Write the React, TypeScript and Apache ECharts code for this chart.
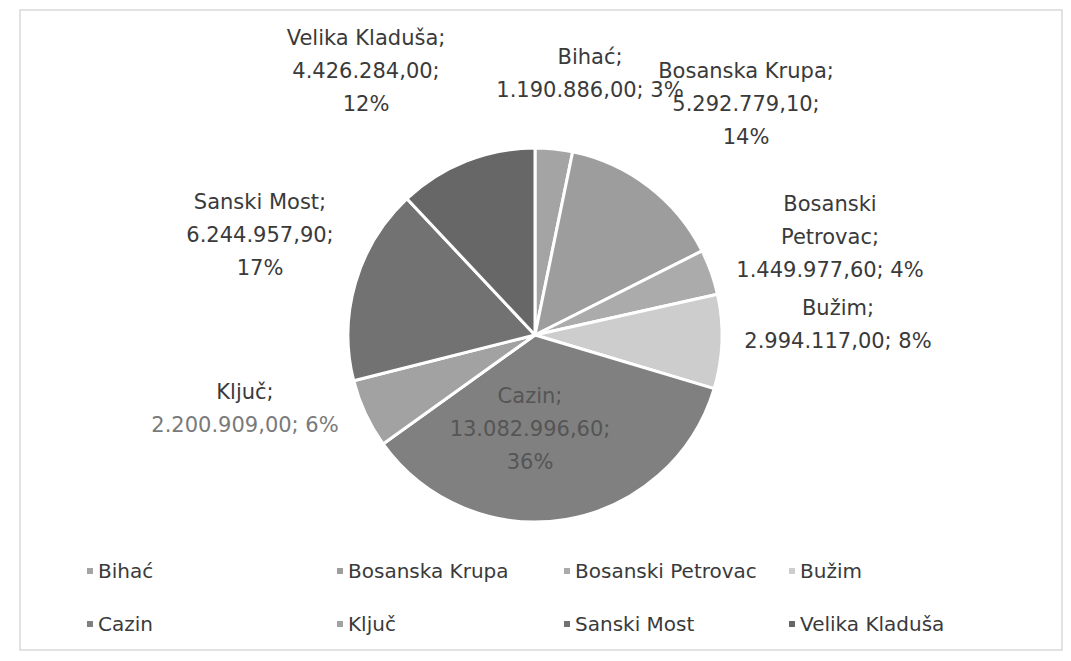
import React, { useEffect, useRef } from "react";
import * as echarts from "echarts";

const categories = [
  "Bihać",
  "Bosanska Krupa",
  "Bosanski Petrovac",
  "Bužim",
  "Cazin",
  "Ključ",
  "Sanski Most",
  "Velika Kladuša",
];
const values = [1190886.0, 5292779.1, 1449977.6, 2994117.0, 13082996.6, 2200909.0, 6244957.9, 4426284.0];
const colors = ["#a4a4a4", "#9d9d9d", "#ababab", "#cdcdcd", "#808080", "#a2a2a2", "#727272", "#676767"];

// label anchor positions (center of each label block), by category index
const labelPos: [number, number][] = [
  [590, 73],
  [746, 104],
  [830, 237],
  [838, 324],
  [530, 429],
  [245, 408],
  [260, 235],
  [366, 71],
];

// legend columns: [row1 name, row2 name]
const legendCols = [
  ["Bihać", "Cazin"],
  ["Bosanska Krupa", "Ključ"],
  ["Bosanski Petrovac", "Sanski Most"],
  ["Bužim", "Velika Kladuša"],
];
const legendLeft = [80, 330, 557, 782];

function fmtNum(v: number): string {
  const s = v.toFixed(2);
  const [intPart, dec] = s.split(".");
  const withDots = intPart.replace(/\B(?=(\d{3})+(?!\d))/g, ".");
  return withDots + "," + dec;
}

export default function App() {
  const ref = useRef<HTMLDivElement>(null);
  useEffect(() => {
    if (!ref.current) return;
    const chart = echarts.init(ref.current, null, { renderer: "svg" });
    const font = "DejaVu Sans";
    const data = categories.map((name, i) => {
      const isCazin = name === "Cazin";
      return {
        name,
        value: values[i],
        itemStyle: { color: colors[i] },
        label: {
          formatter: (p: any) => {
            const num = fmtNum(p.value);
            const pct = Math.round(p.percent) + "%";
            switch (p.name) {
              case "Bihać":
                return `Bihać;\n${num}; ${pct}`;
              case "Bosanska Krupa":
                return `Bosanska Krupa;\n${num};\n${pct}`;
              case "Bosanski Petrovac":
                return `Bosanski\nPetrovac;\n${num}; ${pct}`;
              case "Bužim":
                return `Bužim;\n${num}; ${pct}`;
              case "Ključ":
                return `Ključ;\n{g|${num}; ${pct}}`;
              default:
                return `${p.name};\n${num};\n${pct}`;
            }
          },
          color: isCazin ? "#555555" : "#3a3a3a",
        },
      };
    });

    const legends = legendCols.map((names, i) => ({
      orient: "vertical" as const,
      left: legendLeft[i],
      top: 556,
      itemGap: 33,
      itemWidth: 8,
      itemHeight: 8,
      icon: "rect",
      data: names,
      textStyle: { fontFamily: font, fontSize: 20, color: "#3a3a3a", padding: [0, 0, 0, -1] },
    }));

    chart.setOption({
      animation: false,
      backgroundColor: "#ffffff",
      graphic: [
        {
          type: "rect",
          shape: { x: 20, y: 10, width: 1042, height: 640 },
          style: { fill: "none", stroke: "#d9d9d9", lineWidth: 1.5 },
          silent: true,
        },
      ],
      legend: legends,
      series: [
        {
          type: "pie",
          center: [535, 335],
          radius: 187,
          startAngle: 90,
          clockwise: true,
          percentPrecision: 0,
          avoidLabelOverlap: false,
          itemStyle: { borderColor: "#ffffff", borderWidth: 3 },
          label: {
            show: true,
            position: "outside",
            fontFamily: font,
            fontSize: 21,
            lineHeight: 33,
            align: "center",
            color: "#3a3a3a",
            rich: {
              g: { color: "#7a7a7a", fontFamily: font, fontSize: 21, lineHeight: 33 },
            },
          },
          labelLine: { show: false },
          labelLayout: (params: any) => {
            const pos = labelPos[params.dataIndex];
            return {
              x: pos[0],
              y: pos[1],
              align: "center",
              verticalAlign: "middle",
              hideOverlap: false,
            };
          },
          emphasis: { disabled: true },
          data,
        },
      ],
    });
    return () => chart.dispose();
  }, []);
  return (
    <div
      ref={ref}
      style={{ position: "fixed", left: 0, top: 0, width: 1071, height: 661 }}
    />
  );
}
